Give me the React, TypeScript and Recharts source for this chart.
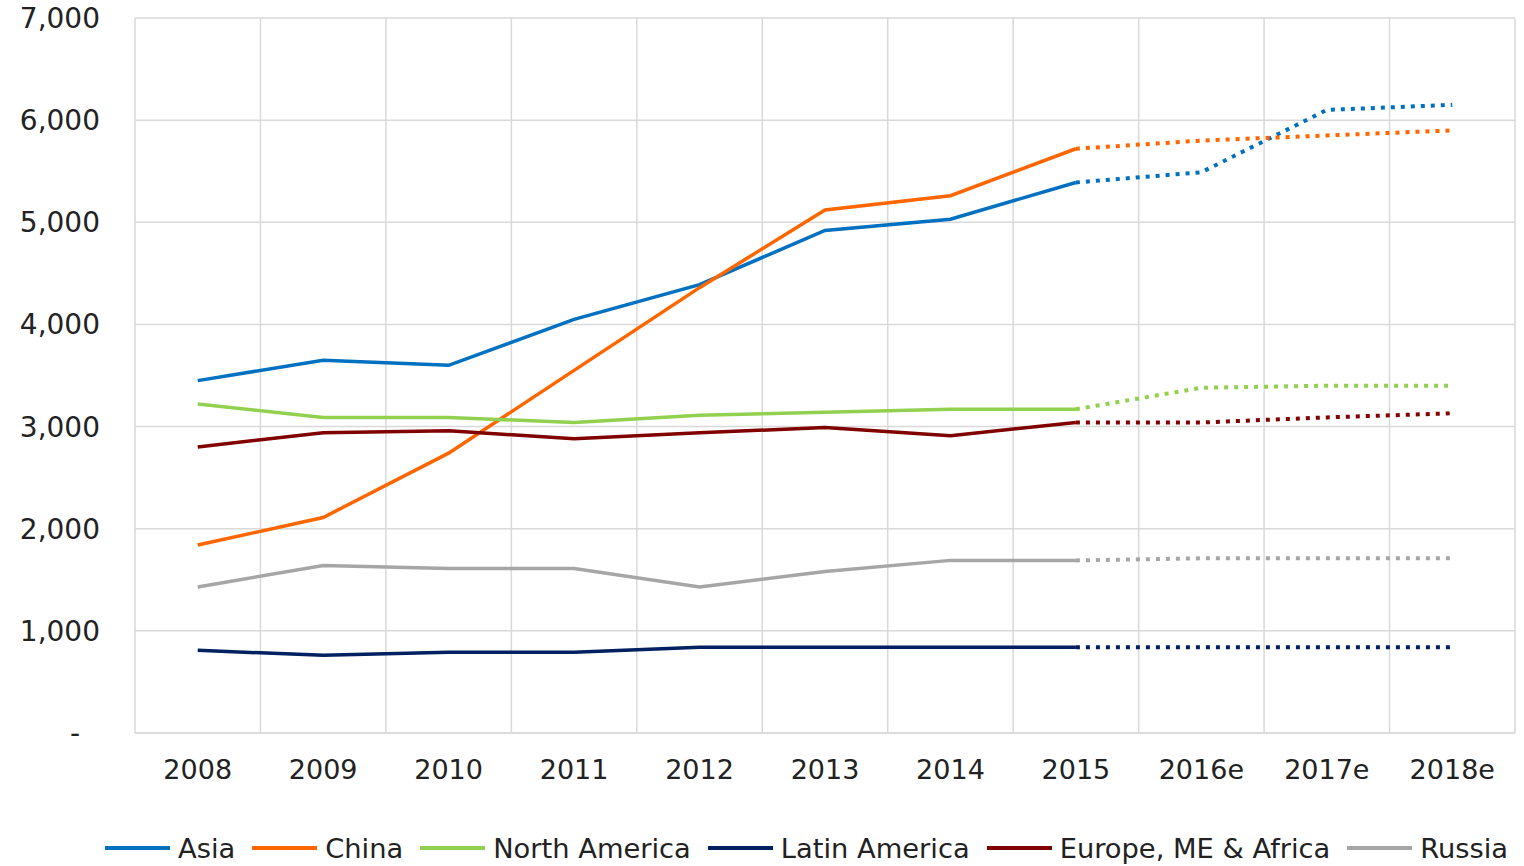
import React from 'react';
import { LineChart, Line, XAxis, YAxis, CartesianGrid, Legend } from 'recharts';

const categories = ['2008', '2009', '2010', '2011', '2012', '2013', '2014', '2015', '2016e', '2017e', '2018e'];
const asia = [3450, 3650, 3600, 4050, 4390, 4920, 5030, 5390, 5490, 6100, 6150];
const china = [1840, 2110, 2740, 3550, 4360, 5120, 5260, 5720, 5800, 5850, 5900];
const northAmerica = [3220, 3090, 3090, 3040, 3110, 3140, 3170, 3170, 3380, 3400, 3400];
const latinAmerica = [810, 760, 790, 790, 840, 840, 840, 840, 840, 840, 840];
const europe = [2800, 2940, 2960, 2880, 2940, 2990, 2910, 3040, 3040, 3090, 3130];
const russia = [1430, 1640, 1610, 1610, 1430, 1580, 1690, 1690, 1710, 1710, 1710];
const yTicks = [0, 1000, 2000, 3000, 4000, 5000, 6000, 7000];
// last actual year (2015); forecasts run from here on
const lastActual = 7;

const series = [
    { key: 'asia', name: 'Asia', values: asia, color: '#0070C0' },
    { key: 'china', name: 'China', values: china, color: '#FF6600' },
    { key: 'na', name: 'North America', values: northAmerica, color: '#92D050' },
    { key: 'latam', name: 'Latin America', values: latinAmerica, color: '#002060' },
    { key: 'emea', name: 'Europe, ME & Africa', values: europe, color: '#800000' },
    { key: 'russia', name: 'Russia', values: russia, color: '#A6A6A6' },
];

const data = categories.map((year, i) => {
    const row: Record<string, string | number | null> = { year, idx: i };
    series.forEach((s) => {
        row[s.key] = i <= lastActual ? s.values[i] : null;
        row[s.key + 'F'] = i >= lastActual ? s.values[i] : null;
    });
    return row;
});

const FONT = '"DejaVu Sans", Verdana, sans-serif';
const TEXT = '#222';

// zero shows as a dash, set further left like the accounting format does
const YTick = (props: any) => {
    const { x, y, payload } = props;
    const zero = payload.value === 0;
    return (
        <text x={zero ? x - 20 : x} y={y} dy="0.355em" textAnchor="end" fill={TEXT} fontSize={28}>
            {zero ? '-' : payload.value.toLocaleString('en-US')}
        </text>
    );
};

const renderLegend = () => (
    <div
        style={{
            display: 'flex',
            alignItems: 'center',
            height: 36,
            paddingLeft: 105,
            whiteSpace: 'nowrap',
            width: 1524,
            boxSizing: 'border-box',
            fontFamily: FONT,
            fontSize: 27.3,
            color: TEXT,
        }}
    >
        {series.map((s) => (
            <span key={s.key} style={{ display: 'inline-flex', alignItems: 'center', marginRight: 17 }}>
                <span style={{ display: 'inline-block', width: 65, height: 4, background: s.color, marginRight: 8 }} />
                <span>{s.name}</span>
            </span>
        ))}
    </div>
);

export default function App() {
    return (
        <div style={{ position: 'absolute', left: 0, top: 0 }}>
            <LineChart
                width={1524}
                height={866}
                data={data}
                margin={{ top: 18, right: 9, bottom: 0, left: 0 }}
                style={{ fontFamily: FONT }}
            >
                <XAxis xAxisId="grid" type="number" dataKey="idx" domain={[0, 11]} ticks={[0, 1, 2, 3, 4, 5, 6, 7, 8, 9, 10, 11]} allowDataOverflow hide />
                <CartesianGrid xAxisId="grid" stroke="#D9D9D9" strokeWidth={1.5} />
                <XAxis
                    dataKey="year"
                    scale="band"
                    height={97}
                    axisLine={{ stroke: '#D9D9D9', strokeWidth: 1.5 }}
                    tickLine={false}
                    tickSize={0}
                    tickMargin={27}
                    interval={0}
                    tick={{ fill: TEXT, fontSize: 27 }}
                />
                <YAxis
                    width={135}
                    domain={[0, 7000]}
                    ticks={yTicks}
                    axisLine={false}
                    tickLine={false}
                    tickSize={0}
                    tickMargin={35}
                    tick={<YTick />}
                />
                <Legend verticalAlign="bottom" content={renderLegend} wrapperStyle={{ left: 0, bottom: 0, width: 1524 }} />
                {series.map((s) => (
                    <Line
                        key={s.key}
                        dataKey={s.key}
                        name={s.name}
                        stroke={s.color}
                        strokeWidth={3.5}
                        dot={false}
                        type="linear"
                        isAnimationActive={false}
                    />
                ))}
                {series.map((s) => (
                    <Line
                        key={s.key + 'F'}
                        dataKey={s.key + 'F'}
                        name={s.name + ' (e)'}
                        stroke={s.color}
                        strokeWidth={4}
                        strokeDasharray="4 6"
                        dot={false}
                        type="linear"
                        legendType="none"
                        isAnimationActive={false}
                    />
                ))}
            </LineChart>
        </div>
    );
}
